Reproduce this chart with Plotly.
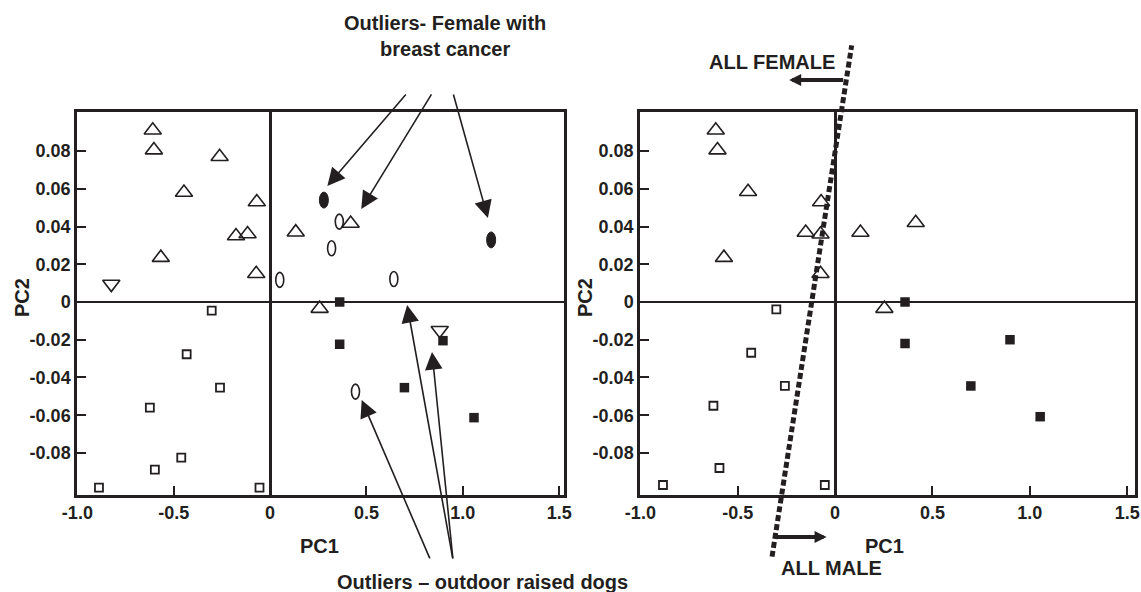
import plotly.graph_objects as go

INK = "#231f20"
FONT = "Liberation Sans, Arial, sans-serif"
W, H = 1141, 592
MT, MB = 112, 97

# ---------------- axes / ticks ----------------
X_RANGE = [-1.002, 1.525]
X2_RANGE = [-1.002, 1.54]
Y_RANGE = [-0.1023, 0.1007]
x_tickvals = [-1.0, -0.5, 0.0, 0.5, 1.0, 1.5]
x_ticktext = ["-1.0", "-0.5", "0", "0.5", "1.0", "1.5"]
y_tickvals = [-0.08, -0.06, -0.04, -0.02, 0.0, 0.02, 0.04, 0.06, 0.08]
y_ticktext = ["-0.08", "-0.06", "-0.04", "-0.02", "0", "0.02", "0.04", "0.06", "0.08"]

# ---------------- left panel data ----------------
L_triup_x = [-0.609, -0.603, -0.262, -0.447, -0.069, -0.177, -0.117, -0.567, -0.072, 0.133, 0.418, 0.257]
L_triup_y = [0.091, 0.0805, 0.077, 0.058, 0.053, 0.035, 0.036, 0.0235, 0.015, 0.037, 0.0416, -0.0035]
L_tridn_x = [-0.824, 0.880]
L_tridn_y = [0.0095, -0.015]
L_openell_x = [0.359, 0.319, 0.050, 0.642, 0.443]
L_openell_y = [0.0426, 0.0285, 0.0117, 0.0122, -0.0475]
L_fillell_x = [0.279, 1.147]
L_fillell_y = [0.054, 0.0329]
L_fillsq_x = [0.361, 0.361, 0.897, 0.697, 1.058]
L_fillsq_y = [0.0, -0.0224, -0.0205, -0.0454, -0.0613]
L_opensq_x = [-0.303, -0.433, -0.260, -0.624, -0.461, -0.598, -0.888, -0.055]
L_opensq_y = [-0.0046, -0.0277, -0.0454, -0.056, -0.0825, -0.0889, -0.0984, -0.0984]

# ---------------- right panel data ----------------
R_triup_x = [-0.613, -0.604, -0.447, -0.072, -0.151, -0.075, -0.571, -0.075, 0.130, 0.414, 0.253]
R_triup_y = [0.091, 0.0805, 0.0584, 0.053, 0.0368, 0.0359, 0.0235, 0.015, 0.0368, 0.042, -0.0035]
R_fillsq_x = [0.359, 0.359, 0.898, 0.697, 1.053]
R_fillsq_y = [0.0, -0.022, -0.020, -0.0445, -0.0608]
R_opensq_x = [-0.302, -0.431, -0.258, -0.625, -0.594, -0.884, -0.053]
R_opensq_y = [-0.0039, -0.0269, -0.0445, -0.055, -0.088, -0.097, -0.097]

# sex-separation line (right panel), in data units
SEP_x = [-0.324, 0.085]
SEP_y = [-0.135, 0.136]

# annotation arrows (left panel data units): (tail_x, tail_y, head_x, head_y)
CANCER_ARROWS = [(0.711, 0.1108, 0.297, 0.0615),
                 (0.842, 0.1108, 0.473, 0.0493),
                 (0.949, 0.1108, 1.130, 0.0445)]
OUTDOOR_ARROWS = [(0.832, -0.1367, 0.475, -0.0519),
                  (0.949, -0.1367, 0.711, -0.0016),
                  (0.949, -0.1367, 0.840, -0.0265)]


def px2paper(px, py):
    return px / W, (H - MB - py) / (H - MT - MB)


def yfrac(v):
    return (v - Y_RANGE[0]) / (Y_RANGE[1] - Y_RANGE[0])


fig = go.Figure()


def add_pts(x, y, symbol, size, xa, ya, lw=1.6):
    fig.add_trace(go.Scatter(
        x=x, y=y, mode="markers", xaxis=xa, yaxis=ya,
        marker=dict(symbol=symbol, size=size, color=INK,
                    line=dict(width=lw, color=INK)),
        showlegend=False, hoverinfo="skip", cliponaxis=False))


add_pts(L_triup_x, L_triup_y, "triangle-up-open", 15, "x", "y")
add_pts(L_tridn_x, L_tridn_y, "triangle-down-open", 15, "x", "y")
add_pts(L_opensq_x, L_opensq_y, "square-open", 8, "x", "y", 1.8)
add_pts(L_fillsq_x, L_fillsq_y, "square", 9.5, "x", "y", 0)

add_pts(R_triup_x, R_triup_y, "triangle-up-open", 15, "x2", "y2")
add_pts(R_opensq_x, R_opensq_y, "square-open", 8, "x2", "y2", 1.8)
add_pts(R_fillsq_x, R_fillsq_y, "square", 9.5, "x2", "y2", 0)

shapes = []
for ex, ey in zip(L_openell_x, L_openell_y):
    shapes.append(dict(type="circle", xref="x", yref="y",
                       xsizemode="pixel", ysizemode="pixel",
                       xanchor=ex, yanchor=ey, x0=-4, x1=4, y0=-7.5, y1=7.5,
                       line=dict(color=INK, width=1.6), fillcolor="rgba(0,0,0,0)"))
for ex, ey in zip(L_fillell_x, L_fillell_y):
    shapes.append(dict(type="circle", xref="x", yref="y",
                       xsizemode="pixel", ysizemode="pixel",
                       xanchor=ex, yanchor=ey, x0=-4.5, x1=4.5, y0=-8, y1=8,
                       line=dict(color=INK, width=1), fillcolor=INK))

shapes.append(dict(type="line", xref="x2", yref="y2 domain",
                   x0=SEP_x[0], x1=SEP_x[1], y0=yfrac(SEP_y[0]), y1=yfrac(SEP_y[1]),
                   line=dict(color=INK, width=5, dash="6px,3px")))

annotations = []
for tx, ty, hx, hy in CANCER_ARROWS + OUTDOOR_ARROWS:
    annotations.append(dict(x=hx, y=hy, xref="x", yref="y",
                            ax=tx, ay=ty, axref="x", ayref="y",
                            text="", showarrow=True, arrowhead=2,
                            arrowsize=2.2, arrowwidth=1.6, arrowcolor=INK))


def label(text, px, py, size=20, angle=0):
    x, y = px2paper(px, py)
    annotations.append(dict(x=x, y=y, xref="paper", yref="paper",
                            text=text, showarrow=False, textangle=angle,
                            xanchor="center", yanchor="middle",
                            font=dict(family=FONT, size=size, color=INK, weight="bold")))


label("Outliers- Female with<br>breast cancer", 445, 36)
label("Outliers \u2013 outdoor raised dogs", 482, 582)
label("ALL FEMALE", 772, 62)
label("ALL MALE", 831, 568)
label("PC1", 319, 546)
label("PC1", 884, 546)
label("PC2", 22, 298, angle=-90)
label("PC2", 585, 298, angle=-90)

# sex-direction arrows (right panel)
_, yf_fem = px2paper(0, 80)
_, yf_male = px2paper(0, 537)
annotations.append(dict(x=-0.236, y=yf_fem, xref="x2", yref="paper",
                        ax=0.049, ay=0, axref="x2", ayref="pixel",
                        text="", showarrow=True, arrowhead=2, arrowsize=0.6,
                        arrowwidth=4, arrowcolor=INK))
annotations.append(dict(x=-0.044, y=yf_male, xref="x2", yref="paper",
                        ax=-0.319, ay=0, axref="x2", ayref="pixel",
                        text="", showarrow=True, arrowhead=2, arrowsize=0.6,
                        arrowwidth=4, arrowcolor=INK))

tickfont = dict(family=FONT, size=18, color=INK, weight="bold")
xcommon = dict(tickvals=x_tickvals, ticktext=x_ticktext,
               ticks="inside", ticklen=9, tickwidth=2, tickcolor=INK,
               showline=True, linewidth=2.5, linecolor=INK, mirror=True,
               showgrid=False, zeroline=True, zerolinewidth=2.5, zerolinecolor=INK,
               tickfont=tickfont, fixedrange=True, automargin=False,
               ticklabeloverflow="allow")
ycommon = dict(range=Y_RANGE, tickvals=y_tickvals, ticktext=y_ticktext,
               ticks="inside", ticklen=9, tickwidth=2, tickcolor=INK,
               showline=True, linewidth=2.5, linecolor=INK, mirror=True,
               showgrid=False, zeroline=True, zerolinewidth=2, zerolinecolor=INK,
               tickfont=tickfont, fixedrange=True, domain=[0, 1], automargin=False,
               ticklabeloverflow="allow")

fig.update_layout(
    width=W, height=H,
    margin=dict(l=0, r=0, t=MT, b=MB, autoexpand=False),
    paper_bgcolor="white", plot_bgcolor="white",
    xaxis=dict(domain=[77 / W, 564 / W], anchor="y", range=X_RANGE, **xcommon),
    yaxis=dict(anchor="x", **ycommon),
    xaxis2=dict(domain=[640 / W, 1135 / W], anchor="y2", range=X2_RANGE, **xcommon),
    yaxis2=dict(anchor="x2", **ycommon),
    shapes=shapes,
    annotations=annotations,
    font=dict(family=FONT, color=INK),
    showlegend=False,
)

fig.write_html("out.html",
               config={"displayModeBar": False},
               post_script="document.body.style.margin='0';document.body.style.padding='0';")
